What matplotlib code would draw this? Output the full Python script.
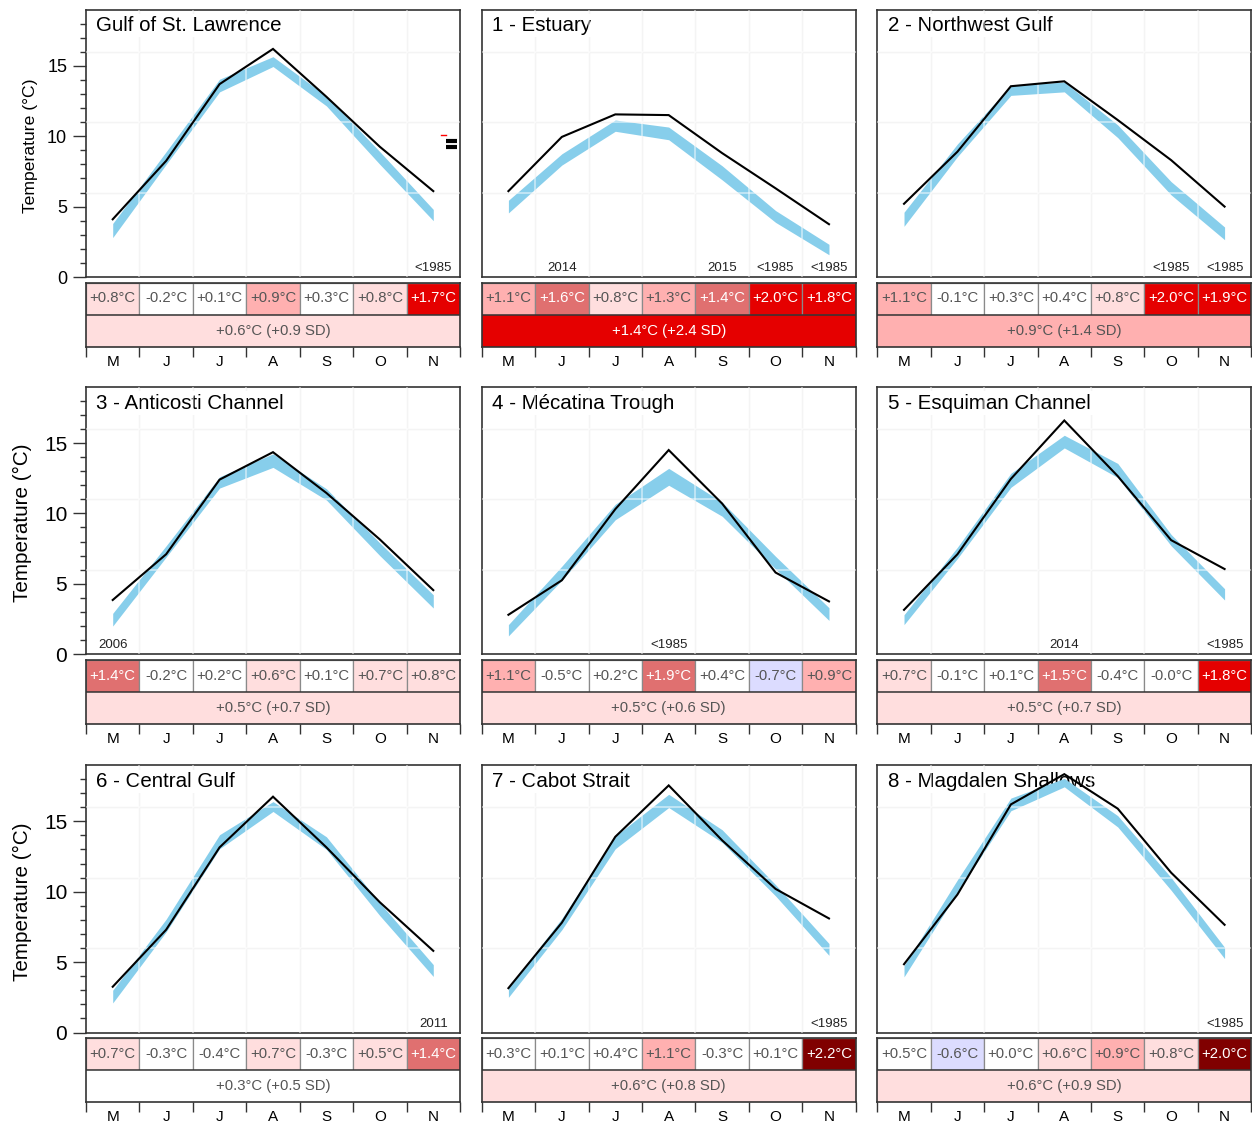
import matplotlib
matplotlib.use("Agg")
import matplotlib.pyplot as plt
from matplotlib.patches import Rectangle
from matplotlib.lines import Line2D
import numpy as np

plt.rcParams['font.family'] = ['Liberation Sans', 'DejaVu Sans']

# ---------------------------------------------------------------- data
months = ["M", "J", "J", "A", "S", "O", "N"]
month_idx = np.arange(1, 8)

regions = ["Gulf of St. Lawrence", "1 - Estuary", "2 - Northwest Gulf",
           "3 - Anticosti Channel", "4 - Mécatina Trough", "5 - Esquiman Channel",
           "6 - Central Gulf", "7 - Cabot Strait", "8 - Magdalen Shallows"]

# monthly climatological mean surface temperature (°C)
clim = [
    [3.3, 8.45, 13.6, 15.3, 12.5, 8.45, 4.4],      # Gulf
    [5.0, 8.35, 10.75, 10.2, 7.4, 4.3, 1.95],      # Estuary
    [4.1, 9.0, 13.25, 13.5, 10.35, 6.3, 3.1],      # Northwest Gulf
    [2.45, 7.3, 12.2, 13.75, 11.35, 7.45, 3.75],   # Anticosti Channel
    [1.7, 5.75, 10.1, 12.6, 10.3, 6.5, 2.85],      # Mécatina Trough
    [2.45, 7.2, 12.35, 15.1, 13.05, 8.1, 4.25],    # Esquiman Channel
    [2.55, 7.6, 13.55, 16.05, 13.45, 8.75, 4.4],   # Central Gulf
    [2.85, 7.7, 13.5, 16.45, 13.95, 10.1, 5.9],    # Cabot Strait
    [4.35, 10.4, 16.2, 17.75, 15.0, 10.55, 5.65],  # Magdalen Shallows
]

# half-width of the climatological band (°C)
band_half = [
    [0.5, 0.45, 0.45, 0.35, 0.35, 0.45, 0.4],
    [0.45, 0.4, 0.4, 0.45, 0.5, 0.42, 0.37],
    [0.5, 0.45, 0.35, 0.35, 0.45, 0.47, 0.45],
    [0.45, 0.4, 0.4, 0.48, 0.4, 0.45, 0.47],
    [0.4, 0.5, 0.55, 0.6, 0.5, 0.45, 0.45],
    [0.35, 0.4, 0.5, 0.45, 0.5, 0.4, 0.4],
    [0.45, 0.45, 0.5, 0.35, 0.45, 0.45, 0.42],
    [0.35, 0.4, 0.45, 0.47, 0.45, 0.4, 0.42],
    [0.4, 0.45, 0.45, 0.3, 0.4, 0.45, 0.4],
]

# monthly anomalies of the year (°C)
anomaly = [
    [0.8, -0.2, 0.1, 0.9, 0.3, 0.8, 1.7],
    [1.1, 1.6, 0.8, 1.3, 1.4, 2.0, 1.8],
    [1.1, -0.1, 0.3, 0.4, 0.8, 2.0, 1.9],
    [1.4, -0.2, 0.2, 0.6, 0.1, 0.7, 0.8],
    [1.1, -0.5, 0.2, 1.9, 0.4, -0.7, 0.9],
    [0.7, -0.1, 0.1, 1.5, -0.4, -0.0, 1.8],
    [0.7, -0.3, -0.4, 0.7, -0.3, 0.5, 1.4],
    [0.3, 0.1, 0.4, 1.1, -0.3, 0.1, 2.2],
    [0.5, -0.6, 0.0, 0.6, 0.9, 0.8, 2.0],
]

# colour class of each monthly anomaly cell (standardized anomaly class)
cell_level = [
    [1, 0, 0, 2, 0, 1, 4],
    [2, 3, 1, 2, 3, 4, 4],
    [2, 0, 0, 0, 1, 4, 4],
    [3, 0, 0, 1, 0, 1, 1],
    [2, 0, 0, 3, 0, -1, 2],
    [1, 0, 0, 3, 0, 0, 4],
    [1, 0, 0, 1, 0, 1, 3],
    [0, 0, 0, 2, 0, 0, 5],
    [0, -1, 0, 1, 2, 1, 5],
]

# May-November average anomaly, in °C and in standard deviations
season_anom = [0.6, 1.4, 0.9, 0.5, 0.5, 0.5, 0.3, 0.6, 0.6]
season_sd = [0.9, 2.4, 1.4, 0.7, 0.6, 0.7, 0.5, 0.8, 0.9]
season_level = [1, 4, 2, 1, 1, 1, 0, 1, 1]

# record notes printed under a month (month index, text)
notes = [
    [(7, "<1985")],
    [(2, "2014"), (5, "2015"), (6, "<1985"), (7, "<1985")],
    [(6, "<1985"), (7, "<1985")],
    [(1, "2006")],
    [(4, "<1985")],
    [(4, "2014"), (7, "<1985")],
    [(7, "2011")],
    [(7, "<1985")],
    [(7, "<1985")],
]

LEVEL_COLORS = {-1: '#dcdcff', 0: '#ffffff', 1: '#ffdede', 2: '#ffb0b0',
                3: '#e07070', 4: '#e50000', 5: '#800000'}
BAND_COLOR = '#87ceeb'
FRAME = '#333333'

# ---------------------------------------------------------------- layout
W, H = 1252, 1124
fig = plt.figure(figsize=(W / 100, H / 100), dpi=100)

col_left = [86, 481.7, 877.3]
row_top = [9.5, 386.7, 765.0]
box_w, box_h = 374, 267.5
table_gap, table_h = 5.5, 64


def fig_rect(x, y, w, h):
    return [x / W, 1 - (y + h) / H, w / W, h / H]


def cell_text_color(level):
    return 'white' if level >= 3 else '#555555'


for k, name in enumerate(regions):
    r, c = divmod(k, 3)
    x0, y0 = col_left[c], row_top[r]

    # ---------------- temperature panel
    ax = fig.add_axes(fig_rect(x0, y0, box_w, box_h))
    ax.set_xlim(0.5, 7.5)
    ax.set_ylim(0, 19)

    for b in np.arange(1.5, 7.5, 1.0):
        ax.axvline(b, color='#ececec', lw=1.0, zorder=0.5)
    for g in (6, 11, 16):
        ax.axhline(g, color='#ececec', lw=1.0, zorder=0.5)

    ax.text(0.028, 0.939, name, transform=ax.transAxes, fontsize=14.8,
            ha='left', va='center', zorder=2,
            bbox=dict(facecolor='white', edgecolor='none', pad=1.5))

    cm = np.array(clim[k])
    hw = np.array(band_half[k])
    an = np.array(anomaly[k])
    ax.fill_between(month_idx, cm - hw, cm + hw, color=BAND_COLOR, lw=0, zorder=3)
    for b in np.arange(1.5, 7.5, 1.0):
        ax.axvline(b, color='white', lw=1.1, alpha=0.6, zorder=3.5)
    for g in (6, 11, 16):
        ax.axhline(g, color='white', lw=1.1, alpha=0.6, zorder=3.5)
    ax.plot(month_idx, cm + an, color='black', lw=1.5, zorder=4,
            solid_joinstyle='miter')

    for m, txt in notes[k]:
        ax.annotate(txt, xy=(m, 0), xytext=(0, 2.0), textcoords='offset points',
                    ha='center', va='bottom', fontsize=9.5, color='#222222', zorder=5)

    for sp in ax.spines.values():
        sp.set_color(FRAME)
        sp.set_linewidth(1.2)
    ax.set_xticks([])
    if c == 0:
        big = (k != 0)
        ax.set_yticks([0, 5, 10, 15])
        ax.set_yticks(np.arange(0, 19, 1), minor=True)
        ax.tick_params(axis='y', which='major', length=9.5, width=1.0,
                       color=FRAME, labelsize=15 if big else 13, pad=4)
        ax.tick_params(axis='y', which='minor', length=4.5, width=1.0, color=FRAME)
        ax.set_ylabel("Temperature (°C)", fontsize=14.9 if big else 12.6)
        ax.yaxis.set_label_coords(-0.145 if big else -0.128, 0.49)
    else:
        ax.set_yticks([])

    if k == 0:
        # small legend key glyphs at the right edge
        ax.add_line(Line2D([0.949, 0.962], [0.531, 0.531], transform=ax.transAxes,
                           color='red', lw=1.0, zorder=5))
        for yy in (0.507, 0.486):
            ax.add_line(Line2D([0.963, 0.993], [yy, yy], transform=ax.transAxes,
                               color='black', lw=3.0, zorder=5,
                               solid_capstyle='butt'))

    # ---------------- anomaly table
    tb = fig.add_axes(fig_rect(x0, y0 + box_h + table_gap, box_w, table_h))
    tb.set_xlim(0.5, 7.5)
    tb.set_ylim(0, 2)
    for i, m in enumerate(month_idx):
        lv = cell_level[k][i]
        tb.add_patch(Rectangle((m - 0.5, 1), 1, 1, facecolor=LEVEL_COLORS[lv],
                               edgecolor='#8a8a8a', lw=0.9, zorder=1))
        tb.text(m, 1.5, f"{anomaly[k][i]:+.1f}°C", ha='center', va='center',
                fontsize=10.7, color=cell_text_color(lv), zorder=3)
    lv = season_level[k]
    tb.add_patch(Rectangle((0.5, 0), 7, 1, facecolor=LEVEL_COLORS[lv],
                           edgecolor='none', zorder=1))
    tb.axhline(1, color=FRAME, lw=1.1, zorder=2)
    tb.text(4, 0.5, f"{season_anom[k]:+.1f}°C ({season_sd[k]:+.1f} SD)",
            ha='center', va='center', fontsize=10.7, color=cell_text_color(lv), zorder=3)
    for sp in tb.spines.values():
        sp.set_color(FRAME)
        sp.set_linewidth(1.2)
        sp.set_zorder(4)
    tb.set_yticks([])
    tb.set_xticks(np.arange(0.5, 8.0, 1.0))
    tb.set_xticklabels([])
    tb.tick_params(axis='x', which='major', length=7.2, width=1.0, color=FRAME)
    tb.set_xticks(month_idx, minor=True)
    tb.set_xticklabels(months, minor=True)
    tb.tick_params(axis='x', which='minor', length=0, pad=6, labelsize=11)

fig.savefig("out.png", dpi=100)
